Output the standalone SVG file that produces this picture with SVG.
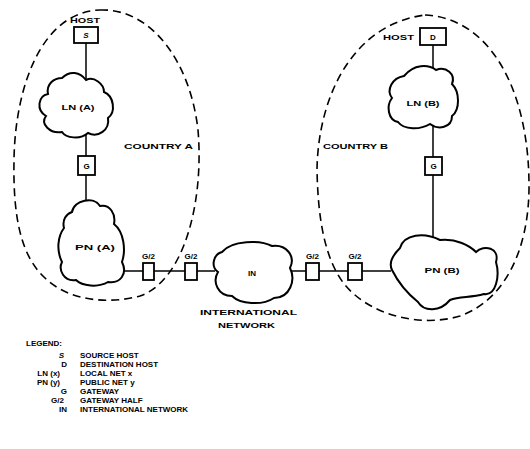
<svg xmlns="http://www.w3.org/2000/svg" width="530" height="449" viewBox="0 0 530 449">
<style>
.t{font-family:"Liberation Sans",Arial,sans-serif;font-weight:bold;font-size:8px;fill:#000}
.c{fill:#fff;stroke:#000;stroke-width:2}
.b{fill:#fff;stroke:#000;stroke-width:1.8}
.d{fill:none;stroke:#000;stroke-width:1.6;stroke-dasharray:8,5}
.l{stroke:#000;stroke-width:1.5;fill:none}
.lg{font-family:"Liberation Sans",Arial,sans-serif;font-weight:bold;font-size:8px;fill:#000}
</style>
<rect width="530" height="449" fill="#fff"/>
<g id="countryA">
<path class="d" d="M100,10 C150,8 190,60 198,130 C204,200 185,280 140,296 C110,304 70,302 45,278 C20,255 13,215 14,160 C15,90 40,12 100,10 Z"/>
<text class="t" x="124" y="149" textLength="69" lengthAdjust="spacingAndGlyphs">COUNTRY A</text>
</g>
<g id="countryB">
<path class="d" d="M425,15 C490,18 530,90 529,190 C528,250 505,300 460,316 C420,328 370,315 345,285 C325,260 318,220 317,170 C318,100 350,25 425,15 Z"/>
<text class="t" x="323" y="149" textLength="65" lengthAdjust="spacingAndGlyphs">COUNTRY B</text>
</g>
<g id="connectors">
<line class="l" x1="86" y1="43" x2="86" y2="80"/>
<line class="l" x1="86" y1="134" x2="86" y2="156"/>
<line class="l" x1="86" y1="175" x2="86" y2="204"/>
<line class="l" x1="433" y1="45" x2="433" y2="70"/>
<line class="l" x1="433" y1="124" x2="433" y2="157"/>
<line class="l" x1="433" y1="175" x2="433" y2="240"/>
<line class="l" x1="122" y1="271" x2="143" y2="271"/>
<line class="l" x1="153" y1="271" x2="185" y2="271"/>
<line class="l" x1="197" y1="271" x2="215" y2="271"/>
<line class="l" x1="291" y1="271" x2="306" y2="271"/>
<line class="l" x1="319" y1="271" x2="348" y2="271"/>
<line class="l" x1="362" y1="271" x2="391" y2="271"/>
</g>
<g id="hostS">
<rect class="b" x="74" y="27" width="24" height="16"/>
<text class="t" x="86" y="38" text-anchor="middle" font-style="italic">S</text>
<text class="t" x="70" y="23" textLength="30" lengthAdjust="spacingAndGlyphs">HOST</text>
</g>
<g id="lnA">
<path class="c" d="M62,78 C70,70 80,72 86,80 C94,76 104,84 104,92 C114,96 116,112 108,118 C110,130 98,138 88,133 C80,140 66,138 62,132 C50,134 40,124 46,116 C36,110 38,96 48,94 C46,84 54,78 62,78 Z"/>
<text class="t" x="78" y="110" text-anchor="middle" textLength="33" lengthAdjust="spacingAndGlyphs">LN (A)</text>
</g>
<g id="gA">
<rect class="b" x="78" y="156" width="17" height="19"/>
<text class="t" x="86.5" y="168.5" text-anchor="middle">G</text>
</g>
<g id="pnA">
<path class="c" d="M72,212 C74,200 94,196 100,206 C110,204 116,214 114,224 C124,232 126,250 122,262 C128,274 120,284 108,282 C98,288 82,286 76,280 C64,282 58,270 62,262 C56,250 58,236 64,228 C62,220 66,214 72,212 Z"/>
<text class="t" x="95" y="250" text-anchor="middle" textLength="40" lengthAdjust="spacingAndGlyphs">PN (A)</text>
</g>
<g id="g2a">
<rect class="b" x="143" y="263" width="11" height="17"/>
<text class="t" x="148.5" y="259" text-anchor="middle">G/2</text>
</g>
<g id="g2b">
<rect class="b" x="185" y="263" width="12" height="17"/>
<text class="t" x="191" y="259" text-anchor="middle">G/2</text>
</g>
<g id="in">
<path class="c" d="M222,252 C232,240 260,240 272,246 C286,244 296,256 290,268 C296,280 290,298 274,298 C262,306 240,304 232,296 C218,296 212,282 218,272 C210,266 214,254 222,252 Z"/>
<text class="t" x="252" y="276" text-anchor="middle">IN</text>
<text class="t" x="200" y="315" textLength="97" lengthAdjust="spacingAndGlyphs">INTERNATIONAL</text>
<text class="t" x="218" y="328" textLength="57" lengthAdjust="spacingAndGlyphs">NETWORK</text>
</g>
<g id="g2c">
<rect class="b" x="306" y="263" width="13" height="17"/>
<text class="t" x="312.5" y="259" text-anchor="middle">G/2</text>
</g>
<g id="g2d">
<rect class="b" x="348" y="263" width="14" height="17"/>
<text class="t" x="355" y="259" text-anchor="middle">G/2</text>
</g>
<g id="pnB">
<path class="c" d="M400,248 C404,234 424,232 440,240 C456,238 470,246 476,252 C484,244 500,248 496,262 C500,276 496,296 484,294 C470,298 460,296 450,300 C440,312 424,312 418,302 C408,294 398,282 392,270 C388,262 394,254 400,248 Z"/>
<text class="t" x="442" y="273" text-anchor="middle" textLength="35" lengthAdjust="spacingAndGlyphs">PN (B)</text>
</g>
<g id="hostD">
<rect class="b" x="420" y="28" width="26" height="17"/>
<text class="t" x="433" y="40" text-anchor="middle">D</text>
<text class="t" x="383" y="40" textLength="31" lengthAdjust="spacingAndGlyphs">HOST</text>
</g>
<g id="lnB">
<path class="c" d="M404,76 C414,64 428,64 436,70 C446,66 456,74 452,84 C460,92 460,110 452,116 C452,128 438,130 430,124 C420,130 404,130 398,122 C388,120 386,106 392,98 C386,90 392,78 404,76 Z"/>
<text class="t" x="423" y="106" text-anchor="middle" textLength="33" lengthAdjust="spacingAndGlyphs">LN (B)</text>
</g>
<g id="gB">
<rect class="b" x="425" y="157" width="17" height="18"/>
<text class="t" x="433.5" y="169" text-anchor="middle">G</text>
</g>
<g id="legend">
<text class="lg" x="26" y="346">LEGEND:</text>
<text class="lg" x="64" y="358" text-anchor="end" font-style="italic">S</text>
<text class="lg" x="80" y="358">SOURCE HOST</text>
<text class="lg" x="67" y="367" text-anchor="end">D</text>
<text class="lg" x="80" y="367">DESTINATION HOST</text>
<text class="lg" x="60" y="376" text-anchor="end">LN (x)</text>
<text class="lg" x="80" y="376">LOCAL NET x</text>
<text class="lg" x="60" y="385" text-anchor="end">PN (y)</text>
<text class="lg" x="80" y="385">PUBLIC NET y</text>
<text class="lg" x="67" y="394" text-anchor="end">G</text>
<text class="lg" x="80" y="394">GATEWAY</text>
<text class="lg" x="64" y="403" text-anchor="end">G/2</text>
<text class="lg" x="80" y="403">GATEWAY HALF</text>
<text class="lg" x="67" y="412" text-anchor="end">IN</text>
<text class="lg" x="80" y="412">INTERNATIONAL NETWORK</text>
</g>
</svg>
